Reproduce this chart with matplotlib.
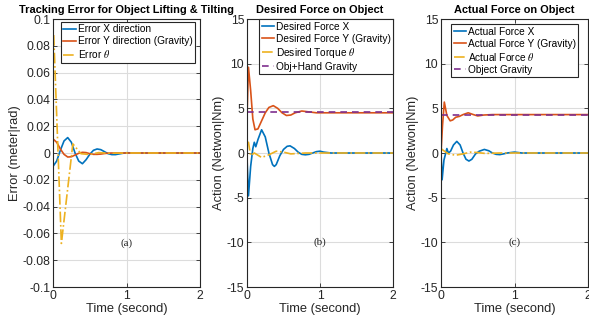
import matplotlib
matplotlib.use("Agg")
import matplotlib.pyplot as plt

# ---- data ----
# (a) tracking error
t_err = [0, 0.05, 0.1, 0.15, 0.2, 0.25, 0.3, 0.35, 0.4, 0.45, 0.5, 0.55, 0.6,
         0.65, 0.7, 0.75, 0.8, 0.85, 0.9, 0.95, 1.0, 1.1, 2.0]
err_x = [-0.010, -0.006, 0.002, 0.009, 0.0115, 0.008, 0.0, -0.006, -0.008, -0.005,
         -0.001, 0.002, 0.003, 0.0025, 0.001, -0.0005, -0.0012, -0.0012, -0.0007,
         -0.0002, 0.0002, 0.0, 0.0]
err_y = [0.0105, 0.008, 0.003, -0.001, -0.003, -0.0028, -0.0015, -0.0002, 0.0005,
         0.0003, -0.0005, -0.001, -0.001, -0.0008, -0.0004, -0.0001, 0.0, 0.0, 0.0,
         0.0, 0.0, 0.0, 0.0]
t_err_th = [0.01, 0.114, 0.27, 0.38, 0.5, 0.62, 0.75, 1.0, 2.0]
err_th = [0.088, -0.0675, 0.0068, -0.0005, -0.0012, 0.0003, -0.0002, 0.0, 0.0]

# (b) desired force
t_dfx = [0, 0.02, 0.05, 0.08, 0.1, 0.12, 0.15, 0.2, 0.25, 0.3, 0.35, 0.375, 0.4,
         0.45, 0.5, 0.55, 0.59, 0.65, 0.7, 0.75, 0.8, 0.85, 0.9, 0.95, 1.0, 1.05,
         1.15, 2.0]
des_fx = [-0.5, -4.8, -1.5, 0.5, 1.2, 0.7, 1.5, 2.6, 1.8, 0.0, -1.3, -1.5, -1.3,
          -0.3, 0.4, 0.75, 0.8, 0.5, 0.1, -0.15, -0.2, -0.15, 0.0, 0.15, 0.2, 0.1,
          0.0, 0.0]
t_dfy = [0, 0.02, 0.05, 0.08, 0.11, 0.15, 0.2, 0.25, 0.3, 0.36, 0.42, 0.48, 0.54,
         0.6, 0.66, 0.75, 0.85, 0.95, 2.0]
des_fy = [4.0, 9.6, 7.0, 3.8, 2.6, 2.7, 3.6, 4.5, 5.1, 5.3, 5.0, 4.5, 4.2, 4.25,
          4.5, 4.7, 4.6, 4.5, 4.5]
t_dth = [0, 0.02, 0.05, 0.1, 0.2, 0.3, 0.4, 0.5, 0.6, 0.8, 1.0, 2.0]
des_th = [1.0, 1.2, -0.3, 0.0, -0.5, -0.2, 0.2, 0.1, -0.1, 0.0, 0.0, 0.0]
des_grav = 4.55

# (c) actual force
t_afx = [0, 0.015, 0.04, 0.08, 0.1, 0.13, 0.17, 0.215, 0.26, 0.3, 0.34, 0.38,
         0.42, 0.47, 0.52, 0.59, 0.65, 0.7, 0.75, 0.8, 0.85, 0.9, 1.0, 1.1, 2.0]
act_fx = [0.0, -3.0, -0.8, 0.5, 0.0, 0.2, 0.9, 1.3, 0.9, 0.0, -0.7, -0.9, -0.7,
          -0.1, 0.2, 0.4, 0.25, 0.0, -0.15, -0.18, -0.1, 0.0, 0.1, 0.0, 0.0]
t_afy = [0, 0.02, 0.045, 0.08, 0.125, 0.16, 0.2, 0.25, 0.3, 0.37, 0.44, 0.5,
         0.58, 0.7, 2.0]
act_fy = [0.0, 3.0, 5.7, 4.2, 3.6, 3.7, 4.0, 4.1, 4.3, 4.5, 4.3, 4.15, 4.25,
          4.3, 4.3]
t_ath = [0, 0.03, 0.1, 0.2, 0.3, 0.4, 0.5, 0.6, 0.8, 1.0, 2.0]
act_th = [0.5, 0.3, -0.1, -0.25, -0.1, 0.1, 0.05, -0.05, 0.0, 0.0, 0.0]
act_grav = 4.27

# ---- style ----
plt.rcParams['font.family'] = ['Liberation Sans', 'DejaVu Sans']
plt.rcParams['mathtext.fontset'] = 'stix'
BLUE, ORANGE, YELLOW, PURPLE = '#0072BD', '#D95319', '#EDB120', '#7E2F8E'
AXC = '#262626'

fig = plt.figure(figsize=(5.89, 3.31), dpi=100)
bottom, height = 44 / 331, 268 / 331
ax1 = fig.add_axes([53 / 589, bottom, 147 / 589, height])
ax2 = fig.add_axes([247 / 589, bottom, 146 / 589, height])
ax3 = fig.add_axes([441 / 589, bottom, 147 / 589, height])


def style(ax, yticks, yticklabels, ylabel, title):
    ax.set_xlim(0, 2)
    ax.set_xticks([0, 1, 2])
    ax.set_xticklabels(['0', '1', '2'])
    ax.set_ylim(yticks[0], yticks[-1])
    ax.set_yticks(yticks)
    ax.set_yticklabels(yticklabels)
    ax.grid(True, color='#dcdcdc', linewidth=0.8)
    ax.set_axisbelow(True)
    for s in ax.spines.values():
        s.set_color(AXC)
        s.set_linewidth(0.8)
    ax.tick_params(direction='in', length=3, width=0.6, colors=AXC,
                   labelsize=8.8, top=True, right=True, pad=2)
    ax.set_xlabel('Time (second)', fontsize=9.3, color=AXC, labelpad=1)
    ax.set_ylabel(ylabel, fontsize=9.3, color=AXC, labelpad=1)
    ax.set_title(title, fontsize=7.9, fontweight='bold', pad=4.5)


def legend(ax, anchor):
    leg = ax.legend(loc='upper left', bbox_to_anchor=anchor, fontsize=7.3,
                    frameon=True, fancybox=False, framealpha=1,
                    edgecolor=AXC, borderpad=0.25, labelspacing=0.2,
                    handlelength=1.2, handletextpad=0.2, borderaxespad=0)
    leg.get_frame().set_linewidth(0.8)


lw = 1.2
# (a)
ax1.plot(t_err, err_x, color=BLUE, lw=lw, label='Error X direction')
ax1.plot(t_err, err_y, color=ORANGE, lw=lw, label='Error Y direction (Gravity)')
ax1.plot(t_err_th, err_th, color=YELLOW, lw=lw, ls='-.', label=r'Error $\theta$')
yt = [-0.1, -0.08, -0.06, -0.04, -0.02, 0, 0.02, 0.04, 0.06, 0.08, 0.1]
style(ax1, yt, ['%g' % v for v in yt], 'Error (meter|rad)',
      'Tracking Error for Object Lifting & Tilting')
legend(ax1, (0.054, 0.99))
ax1.text(1.0, -0.0675, '(a)', family='Liberation Serif', fontsize=8,
         ha='center', va='center', color=AXC)

# (b)
ax2.plot(t_dfx, des_fx, color=BLUE, lw=lw, label='Desired Force X')
ax2.plot(t_dfy, des_fy, color=ORANGE, lw=lw, label='Desired Force Y (Gravity)')
ax2.plot(t_dth, des_th, color=YELLOW, lw=lw, ls='-.', label=r'Desired Torque $\theta$')
ax2.plot([0, 2], [des_grav, des_grav], color=PURPLE, lw=lw, ls='--',
         dashes=(4, 3), label='Obj+Hand Gravity')
yt = [-15, -10, -5, 0, 5, 10, 15]
style(ax2, yt, ['%g' % v for v in yt], 'Action (Netwon|Nm)', 'Desired Force on Object')
legend(ax2, (0.082, 1.0))
ax2.text(1.0, -10, '(b)', family='Liberation Serif', fontsize=8,
         ha='center', va='center', color=AXC)

# (c)
ax3.plot(t_afx, act_fx, color=BLUE, lw=lw, label='Actual Force X')
ax3.plot(t_afy, act_fy, color=ORANGE, lw=lw, label='Actual Force Y (Gravity)')
ax3.plot(t_ath, act_th, color=YELLOW, lw=lw, ls='-.', label=r'Actual Force $\theta$')
ax3.plot([0, 2], [act_grav, act_grav], color=PURPLE, lw=lw, ls='--',
         dashes=(4, 3), label='Object Gravity')
style(ax3, yt, ['%g' % v for v in yt], 'Action (Netwon|Nm)', 'Actual Force on Object')
legend(ax3, (0.068, 0.981))
ax3.text(1.0, -10, '(c)', family='Liberation Serif', fontsize=8,
         ha='center', va='center', color=AXC)

fig.savefig('out.png', dpi=100)
